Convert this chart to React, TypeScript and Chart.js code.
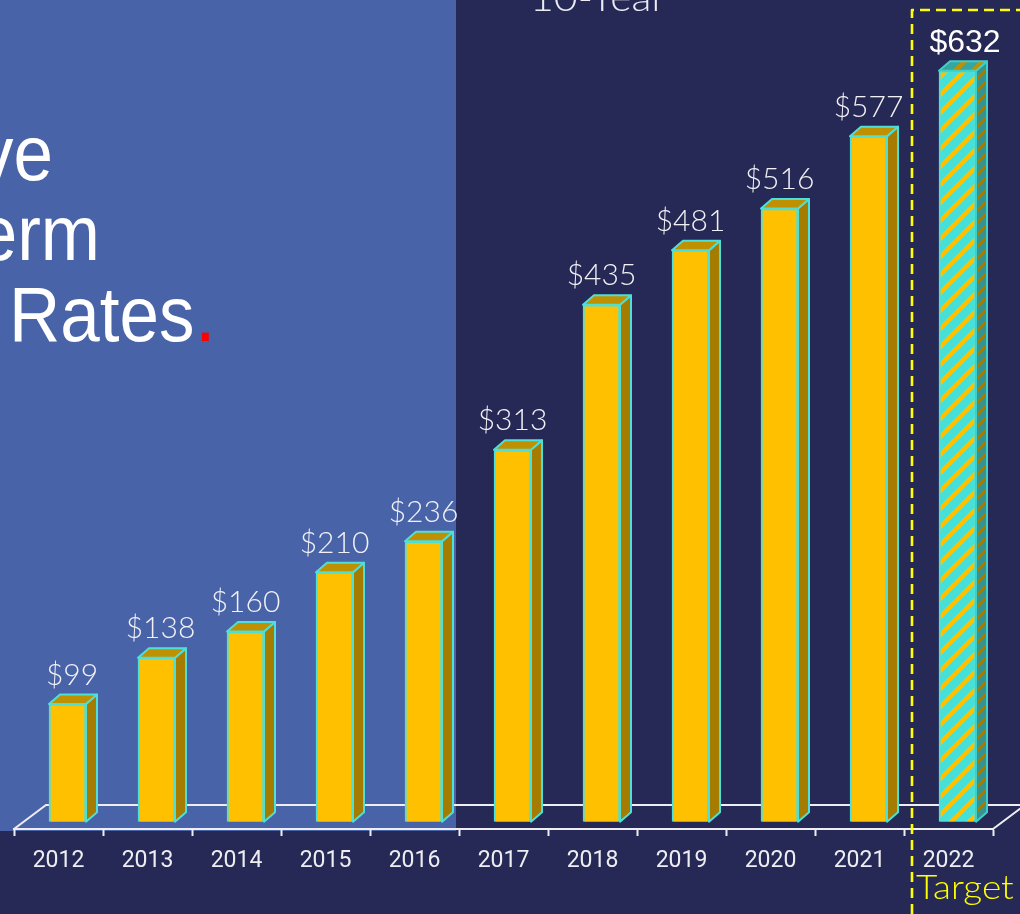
import React, { useEffect, useRef } from "react";
import { Chart, registerables } from "chart.js";

Chart.register(...registerables);

const years = ["2012", "2013", "2014", "2015", "2016", "2017", "2018", "2019", "2020", "2021", "2022"];
const values = [99, 138, 160, 210, 236, 313, 435, 481, 516, 577, 632];
const targetYear = "2022";
const titleLines = ["ve", "erm", "Rates"];
const topCaption = "10-Year";
const targetLabel = "Target";

const DARK = "#262855";
const PANEL = "#4863a7";
const GOLD = "#ffc000";
const GOLD_SIDE = "#a67c00";
const GOLD_TOP = "#bf9000";
const TEAL = "#4ddfd8";
const DEPTH_X = 11;
const DEPTH_Y = 9.5;
const BAR_SHIFT = 9;
const LIGHT_FONT = '300 30px Lato, "Noto Sans", sans-serif';

function stripePattern(ctx: CanvasRenderingContext2D, base: string, stripe: string, s = 18, lw = 4.5) {
  const c = document.createElement("canvas");
  c.width = s;
  c.height = s;
  const p = c.getContext("2d")!;
  p.fillStyle = base;
  p.fillRect(0, 0, s, s);
  p.strokeStyle = stripe;
  p.lineWidth = lw;
  for (const d of [-s, 0, s]) {
    p.beginPath();
    p.moveTo(d - 2, s + 2);
    p.lineTo(d + s + 2, -2);
    p.stroke();
  }
  return ctx.createPattern(c, "repeat")!;
}

const scene = {
  id: "scene",
  beforeDraw(chart: any) {
    const { ctx, width, height, chartArea } = chart;
    ctx.save();
    ctx.fillStyle = DARK;
    ctx.fillRect(0, 0, width, height);
    ctx.fillStyle = PANEL;
    ctx.fillRect(0, 0, 456, chartArea.bottom + 2);

    ctx.fillStyle = "#ffffff";
    ctx.font = '71px "Liberation Sans", Arial, sans-serif';
    const put = (t: string, x: number, y: number, align: CanvasTextAlign, col = "#ffffff") => {
      ctx.save();
      ctx.translate(x, y);
      ctx.scale(1, 1.1);
      ctx.textAlign = align;
      ctx.fillStyle = col;
      ctx.fillText(t, 0, 0);
      ctx.restore();
    };
    put(titleLines[0], 53, 180, "right");
    put(titleLines[1], 100, 260, "right");
    put(titleLines[2], 9, 341, "left");
    const w = ctx.measureText(titleLines[2]).width;
    put(".", 9 + w + 1, 341, "left", "#ff0000");

    ctx.save();
    ctx.fillStyle = "#ececf2";
    ctx.font = '300 38px Lato, "Noto Sans", sans-serif';
    ctx.textAlign = "center";
    ctx.translate(598, 11);
    ctx.scale(1.08, 1);
    ctx.fillText(topCaption, 0, 0);
    ctx.restore();
    ctx.restore();
  },
  beforeDatasetsDraw(chart: any) {
    const { ctx, chartArea } = chart;
    const backY = chartArea.bottom - 24;
    ctx.save();
    ctx.strokeStyle = "#eeeef2";
    ctx.lineWidth = 2;
    ctx.beginPath();
    ctx.moveTo(chartArea.left, chartArea.bottom);
    ctx.lineTo(chartArea.left + 32, backY);
    ctx.lineTo(chart.width + 5, backY);
    ctx.lineTo(chartArea.right, chartArea.bottom);
    ctx.stroke();
    ctx.restore();
    ctx.save();
    ctx.translate(BAR_SHIFT, 0);
  },
  afterDatasetsDraw(chart: any) {
    const { ctx } = chart;
    ctx.restore();
    const meta = chart.getDatasetMeta(0);
    const patSide = stripePattern(ctx, "#38938f", "#a67c00", 12, 3);
    const patTop = stripePattern(ctx, "#35a6a0", "#bf9000", 18, 4.5);
    meta.data.forEach((el: any, i: number) => {
      const isTarget = years[i] === targetYear;
      const cx = el.x + BAR_SHIFT;
      const l = cx - el.width / 2;
      const r = cx + el.width / 2;
      const t = el.y;
      const b = el.base;
      ctx.save();
      ctx.strokeStyle = isTarget ? "#3fcfc9" : TEAL;
      ctx.lineWidth = 2;
      ctx.lineJoin = "round";
      ctx.fillStyle = isTarget ? patSide : GOLD_SIDE;
      ctx.beginPath();
      ctx.moveTo(r, t);
      ctx.lineTo(r + DEPTH_X, t - DEPTH_Y);
      ctx.lineTo(r + DEPTH_X, b - DEPTH_Y);
      ctx.lineTo(r, b);
      ctx.closePath();
      ctx.fill();
      ctx.stroke();
      ctx.fillStyle = isTarget ? patTop : GOLD_TOP;
      ctx.beginPath();
      ctx.moveTo(l, t);
      ctx.lineTo(l + DEPTH_X, t - DEPTH_Y);
      ctx.lineTo(r + DEPTH_X, t - DEPTH_Y);
      ctx.lineTo(r, t);
      ctx.closePath();
      ctx.fill();
      ctx.stroke();

      ctx.textAlign = "center";
      ctx.textBaseline = "alphabetic";
      if (isTarget) {
        ctx.font = '32px "Liberation Sans", Arial, sans-serif';
        ctx.fillStyle = "#ffffff";
        ctx.fillText("$" + values[i], cx + 7.5, t - 19);
      } else {
        ctx.font = LIGHT_FONT;
        ctx.fillStyle = "#f2f2f6";
        ctx.fillText("$" + values[i], cx + (i === 0 ? 4.5 : i === 1 ? 4 : 0), t - 19.5);
      }
      ctx.restore();
    });

    ctx.save();
    ctx.strokeStyle = "#ffff00";
    ctx.lineWidth = 2.6;
    ctx.setLineDash([10, 6]);
    ctx.lineJoin = "round";
    ctx.beginPath();
    ctx.moveTo(912, chart.height);
    ctx.lineTo(912, 10);
    ctx.lineTo(chart.width, 10);
    ctx.stroke();
    ctx.setLineDash([]);
    ctx.fillStyle = "#ffff00";
    ctx.font = '300 33px Lato, "Noto Sans", sans-serif';
    ctx.textAlign = "left";
    ctx.translate(916, 899);
    ctx.scale(1.12, 1);
    ctx.fillText(targetLabel, 0, 0);
    ctx.restore();
  },
};

export default function App() {
  const ref = useRef<HTMLCanvasElement>(null);
  useEffect(() => {
    const canvas = ref.current!;
    const ctx = canvas.getContext("2d")!;
    const colors = years.map((y) => (y === targetYear ? stripePattern(ctx, "#47e0d8", GOLD) : GOLD));
    const chart = new Chart(canvas, {
      type: "bar",
      data: {
        labels: years,
        datasets: [
          {
            data: values,
            backgroundColor: colors as any,
            borderColor: TEAL,
            borderWidth: 2,
            barThickness: 37,
            clip: false as any,
          },
        ],
      },
      options: {
        responsive: false,
        animation: false,
        layout: { padding: { left: 14, right: 27, top: 0, bottom: 0 } },
        plugins: { legend: { display: false }, tooltip: { enabled: false }, title: { display: false } },
        scales: {
          y: { display: false, min: -6.2, max: 691.6 },
          x: {
            afterFit: (s: any) => {
              s.height = 85;
            },
            border: { display: true, color: "#eeeef2", width: 2 },
            grid: { drawOnChartArea: false, drawTicks: true, tickLength: 7, tickColor: "#eeeef2", tickWidth: 2, offset: true },
            ticks: {
              color: "#eeeef2",
              font: { family: "Roboto", size: 23 },
              padding: 11,
              maxRotation: 0,
              autoSkip: false,
            },
          },
        },
      },
      plugins: [scene as any],
    });
    return () => chart.destroy();
  }, []);
  return (
    <div style={{ position: "absolute", left: 0, top: 0, width: 1020, height: 914, overflow: "hidden", background: DARK }}>
      <canvas ref={ref} width={1020} height={914} style={{ display: "block" }} />
    </div>
  );
}
